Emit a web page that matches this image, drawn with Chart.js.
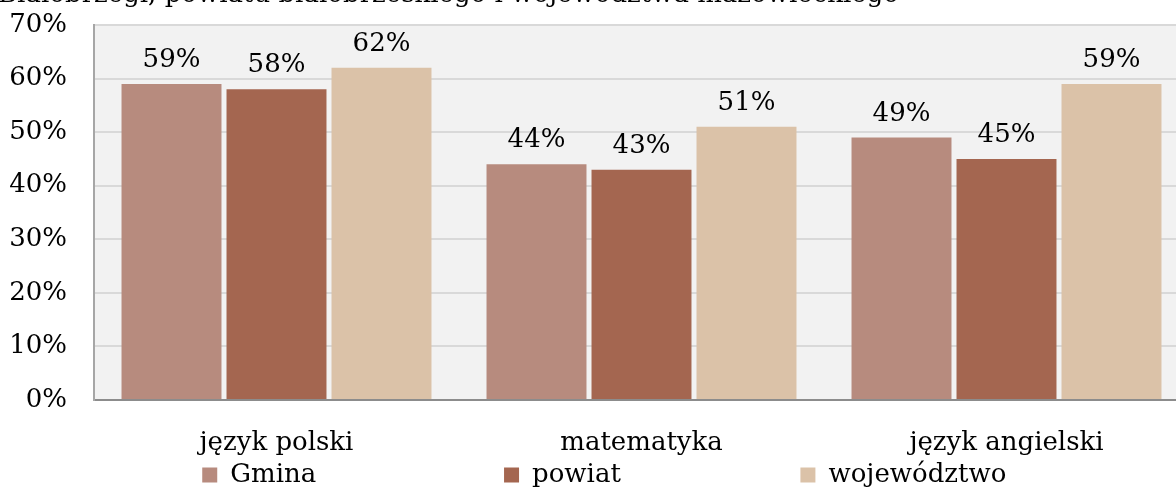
<!DOCTYPE html>
<html>
<head>
<meta charset="utf-8">
<script src="https://cdn.jsdelivr.net/npm/chart.js@4"></script>
<style>
  html, body { margin: 0; padding: 0; background: #fff; overflow: hidden; }
  #wrap { width: 1189px; height: 495px; }
</style>
</head>
<body>
<div id="wrap"><canvas id="chart" width="1189" height="495"></canvas></div>
<script>
const title = "Białobrzegi, powiatu białobrzeskiego i województwa mazowieckiego";
const categories = ["język polski", "matematyka", "język angielski"];
const seriesNames = ["Gmina", "powiat", "województwo"];
const gmina = [59, 44, 49];
const powiat = [58, 43, 45];
const wojewodztwo = [62, 51, 59];
const yMax = 70;
const yStep = 10;

const colors = ["#b78b7e", "#a46650", "#dbc2a8"];
const FONT = "'DejaVu Serif', serif";
// trailing spaces to spread legend items like the original
const legendPad = [22, 21, 9];

const plotBg = {
  id: "plotBg",
  beforeDraw(chart) {
    const { ctx, chartArea: a } = chart;
    ctx.save();
    ctx.fillStyle = "#f2f2f2";
    ctx.fillRect(a.left, a.top, a.right - a.left, a.bottom - a.top);
    ctx.restore();
  }
};

const valueLabels = {
  id: "valueLabels",
  afterDatasetsDraw(chart) {
    const ctx = chart.ctx;
    ctx.save();
    ctx.font = "26px " + FONT;
    ctx.fillStyle = "#000";
    ctx.textAlign = "center";
    ctx.textBaseline = "alphabetic";
    chart.data.datasets.forEach((ds, i) => {
      chart.getDatasetMeta(i).data.forEach((bar, j) => {
        ctx.fillText(ds.data[j] + "%", bar.x, bar.y - 17);
      });
    });
    ctx.restore();
  }
};

const headline = {
  id: "headline",
  afterDraw(chart) {
    const ctx = chart.ctx;
    ctx.save();
    ctx.font = "26px " + FONT;
    ctx.fillStyle = "#000";
    ctx.textAlign = "left";
    ctx.textBaseline = "alphabetic";
    ctx.fillText(title, -2, 2);
    ctx.restore();
  }
};

new Chart(document.getElementById("chart"), {
  type: "bar",
  data: {
    labels: categories,
    datasets: [
      { label: seriesNames[0], data: gmina, backgroundColor: colors[0] },
      { label: seriesNames[1], data: powiat, backgroundColor: colors[1] },
      { label: seriesNames[2], data: wojewodztwo, backgroundColor: colors[2] }
    ]
  },
  options: {
    responsive: false,
    animation: false,
    devicePixelRatio: 1,
    categoryPercentage: 0.863,
    barPercentage: 0.952,
    layout: { padding: { top: 25, left: 0, right: 0, bottom: -3 } },
    plugins: {
      title: { display: false },
      tooltip: { enabled: false },
      legend: {
        position: "bottom",
        fullSize: false,
        labels: {
          font: { family: FONT, size: 26 },
          color: "#000",
          boxWidth: 15,
          boxHeight: 15,
          padding: 6,
          generateLabels(chart) {
            const items = Chart.defaults.plugins.legend.labels.generateLabels(chart);
            items.forEach((it, i) => {
              it.text = it.text + " ".repeat(legendPad[i]);
              it.lineWidth = 0;
            });
            return items;
          }
        }
      }
    },
    scales: {
      x: {
        afterFit(scale) { scale.height = 56; },
        grid: { display: false, drawTicks: false },
        border: { color: "#8c8c8c", width: 2 },
        ticks: { font: { family: FONT, size: 26, lineHeight: 1.0 }, color: "#000", padding: 30 }
      },
      y: {
        min: 0,
        max: yMax,
        afterFit(scale) { scale.width = 94; },
        grid: { color: "#d9d9d9", lineWidth: 2, drawTicks: true, tickLength: 27, tickColor: "rgba(0,0,0,0)" },
        border: { color: "#a6a6a6", width: 2 },
        ticks: {
          stepSize: yStep,
          padding: 0,
          font: { family: FONT, size: 26, lineHeight: 1.0 },
          color: "#000",
          callback: v => v + "%"
        }
      }
    }
  },
  plugins: [plotBg, valueLabels, headline]
});
</script>
</body>
</html>
